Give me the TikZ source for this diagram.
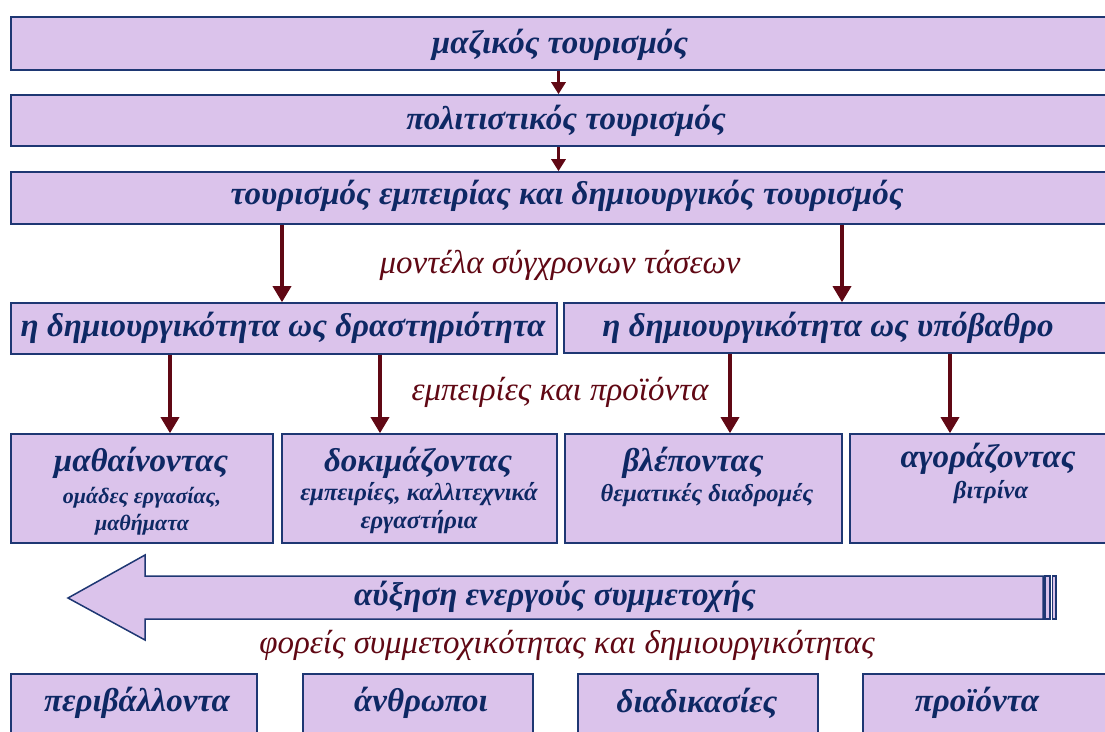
\documentclass[tikz,border=0pt]{standalone}
\usepackage{fontspec}
\setmainfont{Liberation Serif}
\usetikzlibrary{arrows.meta,calc}
\definecolor{boxfill}{RGB}{219,195,235}
\definecolor{boxline}{RGB}{30,55,115}
\definecolor{navy}{RGB}{14,40,100}
\definecolor{maroon}{RGB}{96,8,20}
\begin{document}
\begin{tikzpicture}[x=1pt,y=-1pt,
 box/.style={draw=boxline, fill=boxfill, line width=1.6pt, inner sep=0pt},
 ttl/.style={text=navy, font=\fontsize{33}{36}\selectfont\bfseries\itshape, inner sep=0pt, anchor=center},
 sub/.style={text=navy, font=\fontsize{22}{27}\selectfont\bfseries\itshape, inner sep=0pt, align=center},
 subb/.style={text=navy, font=\fontsize{24.5}{28}\selectfont\bfseries\itshape, inner sep=0pt, align=center},
 lbl/.style={text=maroon, font=\fontsize{33}{36}\selectfont\itshape, inner sep=0pt},
 arr/.style={draw=maroon, line width=3.5pt, -{Triangle[width=18pt,length=16pt]}},
 sarr/.style={draw=maroon, line width=3pt, -{Triangle[width=14pt,length=12pt]}},
]
\useasboundingbox (0,0) rectangle (1105,731);
\clip (0,0) rectangle (1105,731);
% boxes
\node[box, minimum width=1095pt, minimum height=53pt] (b1) at (558.5,43.5) {};
\node[box, minimum width=1095pt, minimum height=51pt] (b2) at (558.5,120.5) {};
\node[box, minimum width=1095pt, minimum height=52pt] (b3) at (558.5,198) {};
\node[box, minimum width=546pt, minimum height=51pt] (r4a) at (284,328.5) {};
\node[box, minimum width=542pt, minimum height=50pt] (r4b) at (835,328) {};
\node[box, minimum width=262pt, minimum height=109pt] (r5a) at (142,488.5) {};
\node[box, minimum width=275pt, minimum height=109pt] (r5b) at (419.5,488.5) {};
\node[box, minimum width=277pt, minimum height=109pt] (r5c) at (703.5,488.5) {};
\node[box, minimum width=256pt, minimum height=109pt] (r5d) at (978,488.5) {};
\node[box, minimum width=246pt, minimum height=71pt] (r6a) at (134,709.5) {};
\node[box, minimum width=230pt, minimum height=71pt] (r6b) at (418,709.5) {};
\node[box, minimum width=240pt, minimum height=71pt] (r6c) at (698,709.5) {};
\node[box, minimum width=243pt, minimum height=71pt] (r6d) at (984.5,709.5) {};
% big arrow
\draw[draw=boxline, fill=boxfill, line width=1.5pt, line join=miter]
  (1043,576) -- (145,576) -- (145,555) -- (68,598) -- (145,640) -- (145,619) -- (1043,619) -- cycle;
\draw[draw=boxline, fill=boxfill, line width=1.2pt] (1045,576) rectangle (1050,619);
\draw[draw=boxline, fill=boxfill, line width=1.2pt] (1052.5,576) rectangle (1056,619);
% texts
\node[ttl] (t1) at (560,45) {μαζικός τουρισμός};
\node[ttl] (t2) at (566,121) {πολιτιστικός τουρισμός};
\node[ttl] (t3) at (567,196) {τουρισμός εμπειρίας και δημιουργικός τουρισμός};
\node[lbl] (l1) at (560,265) {μοντέλα σύγχρονων τάσεων};
\node[ttl] (t4a) at (283,328) {η δημιουργικότητα ως δραστηριότητα};
\node[ttl] (t4b) at (828,328) {η δημιουργικότητα ως υπόβαθρο};
\node[lbl] (l2) at (560,392) {εμπειρίες και προϊόντα};
\node[ttl] (t5a) at (141,463) {μαθαίνοντας};
\node[sub] (s5a) at (142,511) {ομάδες εργασίας,\\μαθήματα};
\node[ttl] (t5b) at (418,463) {δοκιμάζοντας};
\node[subb] (s5b) at (419,508) {εμπειρίες, καλλιτεχνικά\\εργαστήρια};
\node[ttl] (t5c) at (693,463) {βλέποντας};
\node[subb] (s5c) at (707,495) {θεματικές διαδρομές};
\node[ttl] (t5d) at (988,459) {αγοράζοντας};
\node[subb] (s5d) at (991,492) {βιτρίνα};
\node[ttl] (ta) at (555,597) {αύξηση ενεργούς συμμετοχής};
\node[lbl] (l3) at (567,645) {φορείς συμμετοχικότητας και δημιουργικότητας};
\node[ttl] (t6a) at (137,703) {περιβάλλοντα};
\node[ttl] (t6b) at (421,703) {άνθρωποι};
\node[ttl] (t6c) at (697,703) {διαδικασίες};
\node[ttl] (t6d) at (977,703) {προϊόντα};
% connectors
\coordinate (c1) at (282,0);
\coordinate (c2) at (842,0);
\coordinate (c3) at (170,0);
\coordinate (c4) at (380,0);
\coordinate (c5) at (730,0);
\coordinate (c6) at (950,0);
\draw[sarr] (b1.south) -- (b2.north);
\draw[sarr] (b2.south) -- (b3.north);
\draw[arr] (b3.south -| c1) -- (r4a.north -| c1);
\draw[arr] (b3.south -| c2) -- (r4b.north -| c2);
\draw[arr] (r4a.south -| c3) -- (r5a.north -| c3);
\draw[arr] (r4a.south -| c4) -- (r5b.north -| c4);
\draw[arr] (r4b.south -| c5) -- (r5c.north -| c5);
\draw[arr] (r4b.south -| c6) -- (r5d.north -| c6);
\end{tikzpicture}
\end{document}
